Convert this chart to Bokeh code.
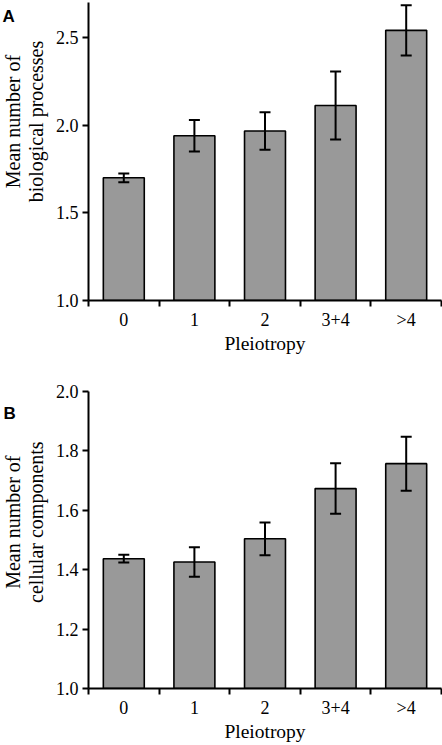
import math
from bokeh.plotting import figure
from bokeh.layouts import column, row
from bokeh.models import FixedTicker, Whisker, ColumnDataSource, Range1d
from bokeh.core.properties import value
from bokeh.embed import file_html
from bokeh.resources import INLINE

categories = ["0", "1", "2", "3+4", ">4"]

bio_mean = [1.70, 1.94, 1.967, 2.112, 2.541]
bio_err = [0.025, 0.09, 0.107, 0.194, 0.143]

cell_mean = [1.437, 1.426, 1.504, 1.673, 1.757]
cell_err = [0.013, 0.05, 0.055, 0.085, 0.091]

bio_ticks = [1.0, 1.5, 2.0, 2.5]
cell_ticks = [1.0, 1.2, 1.4, 1.6, 1.8, 2.0]

bio_ylabel = ["Mean number of", "biological processes"]
cell_ylabel = ["Mean number of", "cellular components"]
xlabel = "Pleiotropy"

SERIF = "Liberation Serif"
STRIP_W = 52
FRAME_LEFT = 87
TOTAL_W = 442


def make_strip(height, top, frame_h, ylabel_lines, letter, letter_x, letter_base):
    s = figure(width=STRIP_W, height=height, output_backend="svg", toolbar_location=None,
               x_range=Range1d(0, STRIP_W), y_range=Range1d(0, height),
               x_axis_type=None, y_axis_type=None,
               min_border_left=0, min_border_right=0, min_border_top=0, min_border_bottom=0)
    s.outline_line_color = None
    s.grid.visible = False
    center_y = height - (top + frame_h / 2.0)
    s.text(x=[12, 35], y=[center_y, center_y], text=ylabel_lines, angle=math.pi / 2,
           text_font=value(SERIF), text_font_size="20px", text_color="black",
           text_align="center", text_baseline="alphabetic")
    s.text(x=[letter_x], y=[height - letter_base], text=[letter],
           text_font=value("Liberation Sans"), text_font_style="bold",
           text_font_size="17px", text_color="black",
           text_align="left", text_baseline="alphabetic")
    return s


def make_panel(means, errs, yticks, ymax, height, top, bottom):
    n = len(categories)
    xs = [i + 0.5 for i in range(n)]
    src = ColumnDataSource(dict(
        x=xs, top=means,
        upper=[m + e for m, e in zip(means, errs)],
        lower=[m - e for m, e in zip(means, errs)],
    ))
    p = figure(width=TOTAL_W - STRIP_W, height=height, output_backend="svg",
               toolbar_location=None,
               x_range=Range1d(0, n), y_range=Range1d(yticks[0], ymax),
               min_border_left=FRAME_LEFT - STRIP_W, min_border_right=1,
               min_border_top=top, min_border_bottom=bottom)
    p.outline_line_color = None
    p.grid.visible = False

    p.vbar(x="x", top="top", bottom=yticks[0], width=0.58, source=src,
           fill_color="#999999", line_color="black", line_width=1.6)
    w = Whisker(base="x", upper="upper", lower="lower", source=src,
                line_color="black", line_width=2, level="overlay")
    w.upper_head.size = 11
    w.lower_head.size = 11
    w.upper_head.line_width = 2
    w.lower_head.line_width = 2
    p.add_layout(w)

    # x axis: labels at category centres, ticks at category boundaries
    xa = p.xaxis[0]
    xa.ticker = FixedTicker(ticks=xs, minor_ticks=list(range(n + 1)))
    xa.major_label_overrides = {x: c for x, c in zip(xs, categories)}
    xa.major_tick_out = 0
    xa.major_tick_in = 0
    xa.minor_tick_out = 6
    xa.minor_tick_in = 0
    xa.minor_tick_line_width = 2
    xa.minor_tick_line_color = "black"
    xa.axis_line_width = 2
    xa.axis_line_color = "black"
    xa.major_label_standoff = 3
    xa.major_label_text_font = SERIF
    xa.major_label_text_font_size = "18px"
    xa.major_label_text_color = "black"
    xa.axis_label = xlabel
    xa.axis_label_text_font = SERIF
    xa.axis_label_text_font_size = "19.5px"
    xa.axis_label_text_font_style = "normal"
    xa.axis_label_text_color = "black"
    xa.axis_label_standoff = 0

    ya = p.yaxis[0]
    ya.ticker = FixedTicker(ticks=yticks, minor_ticks=[])
    ya.major_label_overrides = {t: f"{t:.1f}" for t in yticks}
    ya.major_tick_out = 6
    ya.major_tick_in = 0
    ya.major_tick_line_width = 2
    ya.axis_line_width = 2
    ya.axis_line_color = "black"
    ya.major_label_standoff = 4
    ya.major_label_text_font = SERIF
    ya.major_label_text_font_size = "18px"
    ya.major_label_text_color = "black"
    return p


HA, TOPA, BOTA = 378, 2, 78
HB, TOPB, BOTB = 367, 13, 57

pa = make_panel(bio_mean, bio_err, bio_ticks, 2.70, HA, TOPA, BOTA)
sa = make_strip(HA, TOPA, HA - TOPA - BOTA, bio_ylabel, "A", 2, 18)
pb = make_panel(cell_mean, cell_err, cell_ticks, 2.0, HB, TOPB, BOTB)
sb = make_strip(HB, TOPB, HB - TOPB - BOTB, cell_ylabel, "B", 3, 27)

layout = column(row(sa, pa, spacing=0), row(sb, pb, spacing=0), spacing=0)
open("out.html", "w").write(file_html(layout, INLINE))
